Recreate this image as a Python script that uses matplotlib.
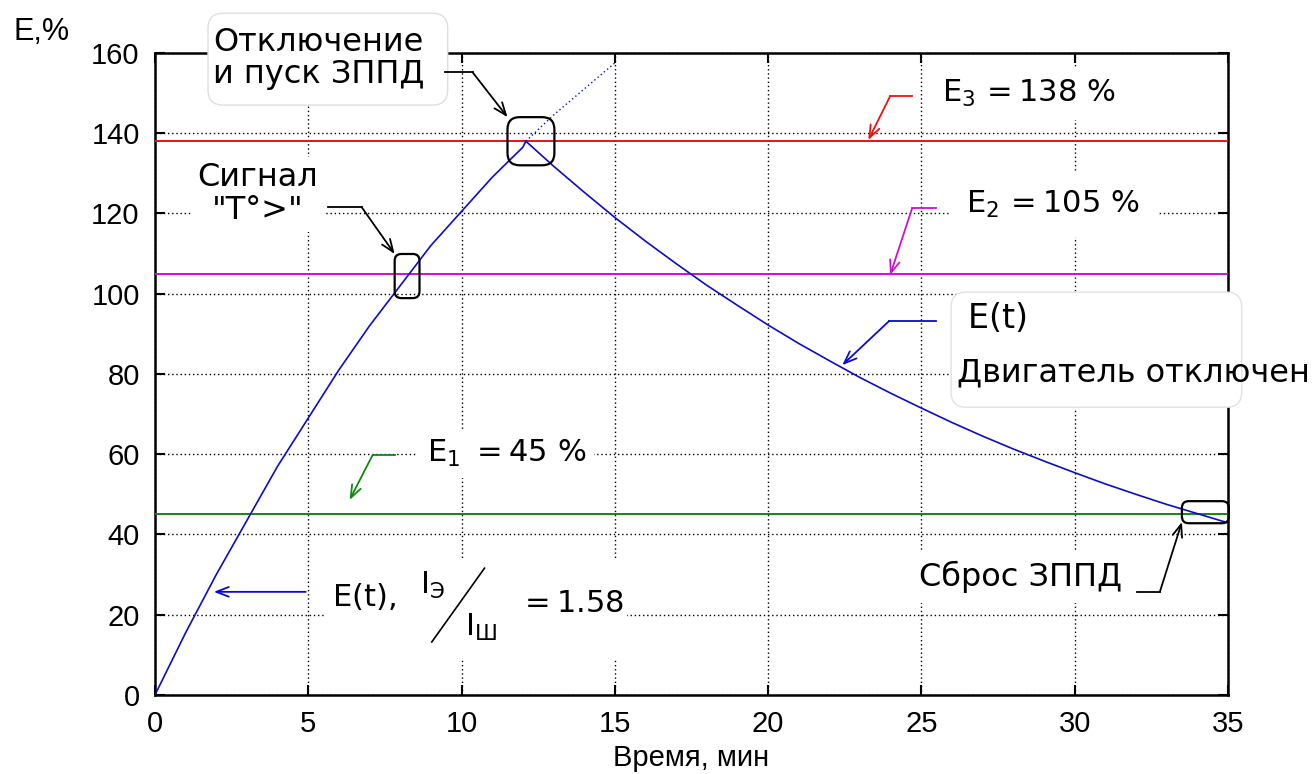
import matplotlib
matplotlib.use("Agg")
import matplotlib.pyplot as plt
from matplotlib.patches import FancyBboxPatch, Rectangle

# --- данные ---
t_nagrev = [0, 1, 2, 3, 4, 5, 6, 7, 8, 9, 10, 11, 12, 12.1]
e_nagrev = [0, 15.5, 30, 43.5, 57, 69, 81, 92, 102, 112, 120.5, 129, 136.5, 138]

t_prodolz = [12.1, 13, 14, 15]
e_prodolz = [138, 144.5, 151, 157.5]

t_ohlazh = [12.1, 13, 14, 15, 16, 17, 18, 19, 20, 21, 22, 23, 24,
            25, 26, 27, 28, 29, 30, 31, 32, 33, 34, 35]
e_ohlazh = [138, 131.8, 125.3, 119.0, 113.1, 107.5, 102.1, 97.1, 92.2,
            87.6, 83.3, 79.1, 75.2, 71.5, 67.9, 64.5, 61.3, 58.3, 55.4,
            52.6, 50.0, 47.5, 45.2, 42.9]

ustavki = [45, 105, 138]
ustavki_cvet = ["#118811", "#cc11cc", "#ee1111"]

x_ticks = [0, 5, 10, 15, 20, 25, 30, 35]
y_ticks = [0, 20, 40, 60, 80, 100, 120, 140, 160]

SINIY = "#0c0cc8"
ASPECT = 7.65  # пиксели на единицу x / пиксели на единицу y
FS = 23  # обычные подписи

fig = plt.figure(figsize=(13.12, 7.74), dpi=100)
ax = fig.add_axes([0.1181, 0.1021, 0.8178, 0.8295])

# --- кривые ---
ax.plot(t_nagrev, e_nagrev, color=SINIY, lw=1.2, zorder=3)
ax.plot(t_ohlazh, e_ohlazh, color=SINIY, lw=1.2, zorder=3)
ax.plot(t_prodolz, e_prodolz, color=SINIY, lw=1.0, ls=(0, (1, 2)), zorder=3)
for lvl, c in zip(ustavki, ustavki_cvet):
    ax.axhline(lvl, color=c, lw=1.4, zorder=2.8)

ax.set_xlim(0, 35)
ax.set_ylim(0, 160)
ax.set_xticks(x_ticks)
ax.set_yticks(y_ticks)
ax.grid(True, color="black", ls=(0, (1, 2)), lw=1.0)
ax.set_axisbelow(True)
ax.tick_params(direction="in", top=True, right=True, length=7, width=1.5,
               labelsize=21, pad=11)
for lab in ax.get_xticklabels() + ax.get_yticklabels():
    lab.set_family("Liberation Sans")
for s in ax.spines.values():
    s.set_linewidth(1.8)

ax.set_xlabel("Время, мин", fontsize=21, family="Liberation Sans", labelpad=4)
fig.text(14 / 1312, 1 - 40 / 774, "E,%", fontsize=22, family="Liberation Sans",
         va="baseline")


def vynoska(pts, color):
    xs = [p[0] for p in pts[:-1]]
    ys = [p[1] for p in pts[:-1]]
    ax.plot(xs, ys, color=color, lw=1.3, clip_on=False, zorder=6)
    ax.annotate("", xy=pts[-1], xytext=pts[-2], annotation_clip=False,
                arrowprops=dict(arrowstyle="->,head_length=0.9,head_width=0.35",
                                color=color, lw=1.3, shrinkA=0, shrinkB=0),
                zorder=6)


def ramka(x0, y0, w, h, r, ec="black", fc="none", lw=1.6, z=5):
    p = FancyBboxPatch((x0, y0), w, h,
                       boxstyle="round,pad=0,rounding_size=%g" % r,
                       mutation_aspect=ASPECT, ec=ec, fc=fc, lw=lw,
                       clip_on=False, zorder=z)
    ax.add_patch(p)


# --- Отключение и пуск ЗППД ---
ramka(1.73, 147.0, 7.82, 22.9, 0.5, ec="#dedede", fc="white", lw=1.0, z=4)
ax.text(1.89, 158.6, "Отключение\nи пуск ЗППД", fontsize=FS, va="center",
        ha="left", linespacing=1.05, zorder=5, clip_on=False)
vynoska([(9.45, 155.2), (10.36, 155.2), (11.50, 144.0)], "black")
ramka(11.50, 132.0, 1.53, 12.0, 0.4)

# --- Сигнал "T°>" ---
ax.text(3.36, 124.8, 'Сигнал\n"T°>"', fontsize=FS, va="center", ha="center",
        linespacing=1.1, zorder=5, bbox=dict(facecolor="white",
                                              edgecolor="none", pad=4))
vynoska([(5.64, 121.6), (6.74, 121.6), (7.82, 109.9)], "black")
ramka(7.82, 98.9, 0.81, 11.0, 0.22)

# --- уставки ---
ax.text(25.68, 147.7, r"$\mathrm{E}_3\,=138\ \%$", fontsize=22, va="baseline",
        zorder=5, bbox=dict(facecolor="white", edgecolor="none", pad=8))
vynoska([(24.70, 149.2), (23.98, 149.2), (23.27, 138.3)], ustavki_cvet[2])

ax.text(26.46, 120.1, r"$\mathrm{E}_2\,=105\ \%$", fontsize=22, va="baseline",
        zorder=5, bbox=dict(facecolor="white", edgecolor="none", pad=12))
vynoska([(25.48, 121.3), (24.70, 121.3), (23.98, 104.6)], ustavki_cvet[1])

ax.text(8.86, 58.0, r"$\mathrm{E}_1\ =45\ \%$", fontsize=22, va="baseline",
        zorder=5, bbox=dict(facecolor="white", edgecolor="none", pad=6))
vynoska([(7.82, 59.8), (7.10, 59.8), (6.35, 48.6)], ustavki_cvet[0])

# --- E(t) Двигатель отключен ---
ramka(25.97, 71.7, 9.48, 28.7, 0.5, ec="#e2e2e2", fc="white", lw=1.0, z=4)
ax.text(26.49, 91.4, r"$\mathrm{E(t)}$", fontsize=24, va="baseline",
        zorder=5, clip_on=False)
ax.text(26.16, 80.3, "Двигатель отключен", fontsize=FS, va="center",
        zorder=5, clip_on=False)
vynoska([(25.48, 93.2), (23.95, 93.2), (22.42, 82.2)], SINIY)

# --- E(t), Iэ/Iш = 1.58 ---
ax.add_patch(Rectangle((5.54, 8.7), 9.87, 24.9, fc="white", ec="none",
                       zorder=2.5))
ax.text(5.77, 24.6, r"$\mathrm{E(t)},$", fontsize=22, va="center", zorder=5)
ax.text(8.63, 27.2, r"$\mathrm{I}_{\mathrm{Э}}$", fontsize=22, va="center",
        zorder=5)
ax.plot([9.03, 10.75], [13.2, 31.6], color="black", lw=1.2, zorder=5)
ax.text(10.1, 16.9, r"$\mathrm{I}_{\mathrm{Ш}}$", fontsize=22, va="center",
        zorder=5)
ax.text(11.89, 22.9, r"$=1.58$", fontsize=22, va="center", zorder=5)
vynoska([(4.92, 25.7), (1.92, 25.7)], SINIY)

# --- Сброс ЗППД ---
ax.text(24.93, 29.4, "Сброс ЗППД", fontsize=FS, va="center", zorder=5,
        bbox=dict(facecolor="white", edgecolor="none", pad=7))
vynoska([(32.03, 25.7), (32.78, 25.7), (33.50, 43.1)], "black")
ramka(33.50, 42.8, 1.53, 5.5, 0.22)

fig.savefig("out.png", dpi=100)
